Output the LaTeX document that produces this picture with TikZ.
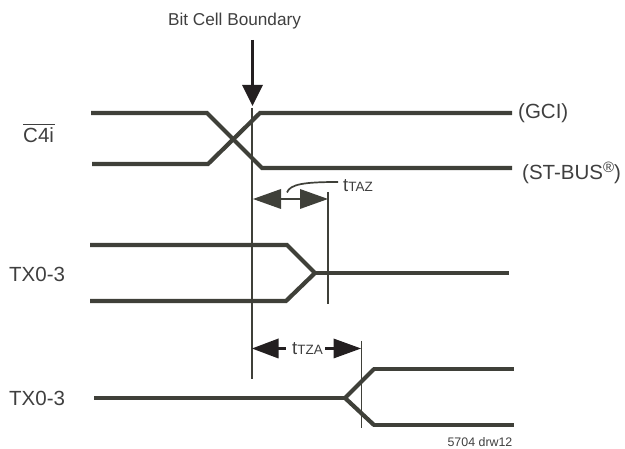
\documentclass[tikz,border=0pt]{standalone}
\usepackage{fontspec}
\setmainfont{Liberation Sans}
\definecolor{sig}{HTML}{3F4039}
\definecolor{txt}{HTML}{3F3F3F}
\definecolor{headk}{HTML}{231F20}
\tikzset{
  wave/.style={draw=sig,line width=4.2pt,line join=miter,line cap=butt},
  guide/.style={draw=sig,line width=1.7pt},
  lab/.style={inner sep=0pt,text=txt,font=\fontsize{20.5}{24}\selectfont},
  sublab/.style={inner sep=0pt,text=txt,anchor=west,font=\fontsize{18.5}{22}\selectfont},
}
\newcommand{\subs}[1]{{\fontsize{13.5}{16}\selectfont #1}}
\begin{document}
\begin{tikzpicture}[x=1pt,y=-1pt]
\useasboundingbox (0,0) rectangle (625,449);
% top labels
\node[inner sep=0pt,text=txt,font=\fontsize{17.2}{20}\selectfont] (title) at (234.5,21.5) {Bit Cell Boundary};
\coordinate (arrowtop) at (252.5,40);
\coordinate (arrowneck) at (252.5,86);
\draw[headk,line width=2.8pt] (arrowtop) -- (arrowneck);
\fill[headk] (242,85) -- (263,85) -- (252.5,106) -- cycle;
% boundary
\coordinate (bt) at (252,108);
\coordinate (bb) at (252,379);
\draw[guide] (bt) -- (bb);
% C4i
\node[lab,anchor=west] (c4i) at (23,135) {C4i};
\draw[txt,line width=1.1pt] (23,124.7) -- (55,124.7);
\draw[wave] (91,113) -- (207,113) -- (262,168) -- (512,168);
\draw[wave] (92,164) -- (208,164) -- (260,113) -- (512,113);
\node[lab,anchor=west] (gci) at (518,113) {(GCI)};
\node[lab,anchor=west] (st) at (522,173) {(ST-BUS\raisebox{7pt}{\fontsize{15}{15}\selectfont\textregistered})};
% tTAZ
\coordinate (tazl) at (253,199);
\coordinate (tazr) at (328,199);
\draw[guide] (328,192) -- (328,304);
\fill[sig] (tazl) -- (281,189) -- (281,209) -- cycle;
\fill[sig] (tazr) -- (300,189) -- (300,209) -- cycle;
\draw[sig,line width=2.6pt] (281,199) -- (300,199);
\draw[sig,line width=1.7pt] (287,192.5) .. controls (290,184) and (305,182) .. (338,182);
\node[sublab] (taz) at (343,186) {t\subs{TAZ}};
% TX middle
\node[lab,anchor=west] (tx1) at (9,274) {TX0-3};
\draw[wave] (90,245) -- (287,245) -- (315,273);
\draw[wave] (90,301) -- (286,301) -- (315,273);
\draw[wave] (313,273) -- (509,273);
% tTZA
\coordinate (tzal) at (252,348.5);
\coordinate (tzar) at (361,348.5);
\fill[headk] (tzal) -- (278.5,338.5) -- (278.5,358.5) -- cycle;
\fill[headk] (tzar) -- (333.5,338.5) -- (333.5,358.5) -- cycle;
\draw[headk,line width=2.6pt] (278,348.5) -- (286,348.5);
\draw[headk,line width=2.6pt] (325,348.5) -- (334,348.5);
\node[sublab] (tza) at (292,349) {t\subs{TZA}};
% TX bottom
\node[lab,anchor=west] (tx2) at (9,398) {TX0-3};
\draw[guide] (361.5,341) -- (361.5,428);
\draw[wave] (94,398) -- (346,398);
\draw[wave] (374,369) -- (345,398) -- (374,425) ;
\draw[wave] (373,369) -- (514,369);
\draw[wave] (373,425) -- (514,425);
\node[inner sep=0pt,text=txt,font=\fontsize{12.4}{14}\selectfont] (drw) at (480,442) {5704 drw12};
\end{tikzpicture}
\end{document}
